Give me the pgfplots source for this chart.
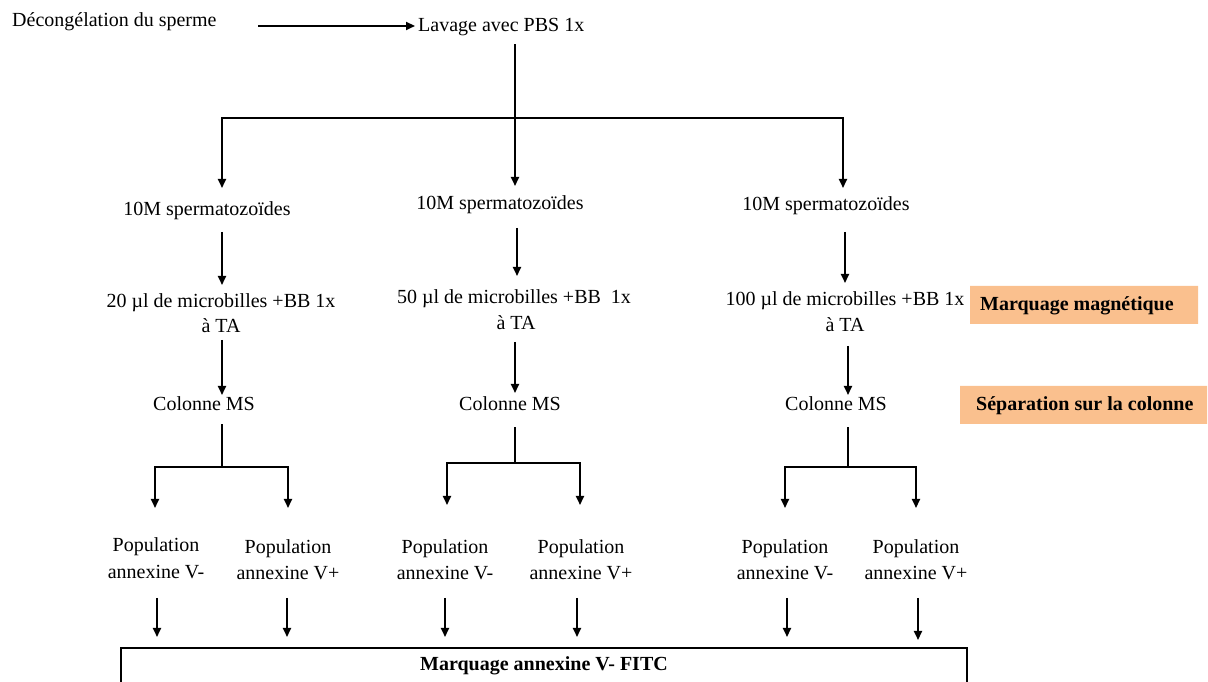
\documentclass[border=0pt]{standalone}
\usepackage{pgfplots}
\pgfplotsset{compat=1.18}
\usepackage{fontspec}
\setmainfont{Liberation Serif}
\usetikzlibrary{arrows.meta}
\definecolor{boxorange}{RGB}{250,192,142}
\begin{document}
\begin{tikzpicture}
\begin{axis}[
  scale only axis, width=1208pt, height=682pt,
  xmin=0, xmax=1208, ymin=0, ymax=682,
  hide axis, clip=false,
  every axis plot/.append style={black, line width=2pt, mark=none},
  arr/.style={-{Triangle[width=8pt,length=9pt]}},
  ln/.style={line cap=rect},
]
\coordinate (SW) at (axis cs:0,0);
\coordinate (NE) at (axis cs:1208,682);
% orange boxes
\addplot[fill=boxorange, draw=none, line width=0pt] coordinates {(970,358) (1198,358) (1198,396) (970,396) (970,358)};
\addplot[fill=boxorange, draw=none, line width=0pt] coordinates {(960,258) (1207,258) (1207,296) (960,296) (960,258)};
% top
\addplot[arr] coordinates {(258,656) (415,656)};
\addplot[ln] coordinates {(515,637) (515,564)};
\addplot[ln] coordinates {(222,564) (843,564)};
\addplot[arr] coordinates {(222,564) (222,494)};
\addplot[arr] coordinates {(515,564) (515,496)};
\addplot[arr] coordinates {(843,564) (843,494)};
% to microbilles
\addplot[arr] coordinates {(222,450) (222,397)};
\addplot[arr] coordinates {(517,454) (517,406)};
\addplot[arr] coordinates {(845,450) (845,399)};
% to colonne
\addplot[arr] coordinates {(222,342) (222,287)};
\addplot[arr] coordinates {(515,340) (515,289)};
\addplot[arr] coordinates {(848,336) (848,287)};
% from colonne
\addplot[ln] coordinates {(222,257) (222,215)};
\addplot[ln] coordinates {(515,254) (515,219)};
\addplot[ln] coordinates {(848,254) (848,215)};
\addplot[ln] coordinates {(155,215) (288,215)};
\addplot[ln] coordinates {(447,219) (580,219)};
\addplot[ln] coordinates {(785,215) (916,215)};
\addplot[arr] coordinates {(155,215) (155,174)};
\addplot[arr] coordinates {(288,215) (288,174)};
\addplot[arr] coordinates {(447,219) (447,177)};
\addplot[arr] coordinates {(580,219) (580,177)};
\addplot[arr] coordinates {(785,215) (785,174)};
\addplot[arr] coordinates {(916,215) (916,174)};
% bottom arrows
\addplot[arr] coordinates {(157,84) (157,45)};
\addplot[arr] coordinates {(287,84) (287,45)};
\addplot[arr] coordinates {(445,84) (445,45)};
\addplot[arr] coordinates {(577,84) (577,45)};
\addplot[arr] coordinates {(787,84) (787,45)};
\addplot[arr] coordinates {(918,84) (918,42)};
% bottom box
\addplot[line join=miter] coordinates {(121,0) (121,34) (967,34) (967,0)};

\tikzset{lbl/.style={font=\fontsize{20}{24}\selectfont, inner sep=0pt, anchor=base}}
\node[lbl, anchor=base west] at (axis cs:12,655) {Décongélation du sperme};
\node[lbl, anchor=base west] at (axis cs:418,650) {Lavage avec PBS 1x};
\node[lbl] at (axis cs:207,466) {10M spermatozoïdes};
\node[lbl] at (axis cs:500,472) {10M spermatozoïdes};
\node[lbl] at (axis cs:826,471) {10M spermatozoïdes};
\node[lbl] at (axis cs:221,374) {20 µl de microbilles +BB 1x};
\node[lbl] at (axis cs:221,349) {à TA};
\node[lbl] at (axis cs:514,378) {50 µl de microbilles +BB\ \ 1x};
\node[lbl] at (axis cs:516,352) {à TA};
\node[lbl] at (axis cs:845,376) {100 µl de microbilles +BB 1x};
\node[lbl] at (axis cs:845,350) {à TA};
\node[lbl] at (axis cs:204,271) {Colonne MS};
\node[lbl] at (axis cs:510,271) {Colonne MS};
\node[lbl] at (axis cs:836,271) {Colonne MS};
\node[lbl] at (axis cs:156,130) {Population};
\node[lbl] at (axis cs:156,103) {annexine V-};
\node[lbl] at (axis cs:288,128) {Population};
\node[lbl] at (axis cs:288,102) {annexine V+};
\node[lbl] at (axis cs:445,128) {Population};
\node[lbl] at (axis cs:445,102) {annexine V-};
\node[lbl] at (axis cs:581,128) {Population};
\node[lbl] at (axis cs:581,102) {annexine V+};
\node[lbl] at (axis cs:785,128) {Population};
\node[lbl] at (axis cs:785,102) {annexine V-};
\node[lbl] at (axis cs:916,128) {Population};
\node[lbl] at (axis cs:916,102) {annexine V+};
\node[lbl, font=\fontsize{20}{24}\selectfont\bfseries] at (axis cs:544,11) {Marquage annexine V- FITC};
\node[lbl, anchor=base west, font=\fontsize{20}{24}\selectfont\bfseries] at (axis cs:980,371) {Marquage magnétique};
\node[lbl, anchor=base west, font=\fontsize{20}{24}\selectfont\bfseries] at (axis cs:976,271) {Séparation sur la colonne};
\end{axis}
\pgfresetboundingbox
\path[use as bounding box] (SW) rectangle (NE);
\end{tikzpicture}
\end{document}
